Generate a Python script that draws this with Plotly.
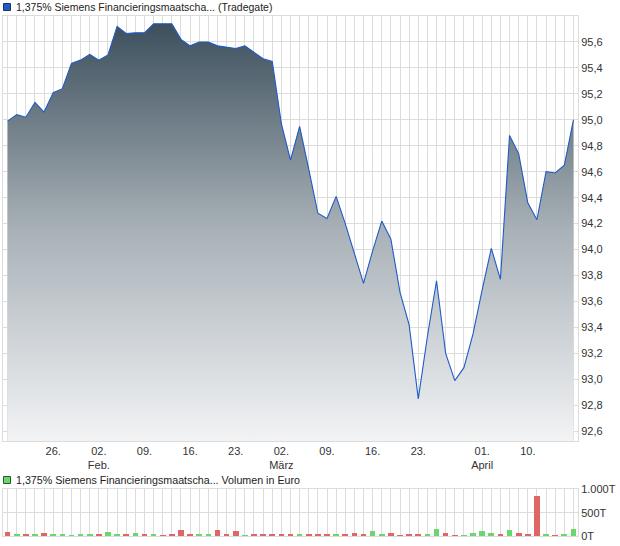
import plotly.graph_objects as go

# ---- data -------------------------------------------------------------
dates = [
    "2026-01-19", "2026-01-20", "2026-01-21", "2026-01-22", "2026-01-23",
    "2026-01-26", "2026-01-27", "2026-01-28", "2026-01-29", "2026-01-30",
    "2026-02-02", "2026-02-03", "2026-02-04", "2026-02-05", "2026-02-06",
    "2026-02-09", "2026-02-10", "2026-02-11", "2026-02-12", "2026-02-13",
    "2026-02-16", "2026-02-17", "2026-02-18", "2026-02-19", "2026-02-20",
    "2026-02-23", "2026-02-24", "2026-02-25", "2026-02-26", "2026-02-27",
    "2026-03-02", "2026-03-03", "2026-03-04", "2026-03-05", "2026-03-06",
    "2026-03-09", "2026-03-10", "2026-03-11", "2026-03-12", "2026-03-13",
    "2026-03-16", "2026-03-17", "2026-03-18", "2026-03-19", "2026-03-20",
    "2026-03-23", "2026-03-24", "2026-03-25", "2026-03-26", "2026-03-27",
    "2026-03-30", "2026-03-31", "2026-04-01", "2026-04-02", "2026-04-07",
    "2026-04-08", "2026-04-09", "2026-04-10", "2026-04-13", "2026-04-14",
    "2026-04-15", "2026-04-16", "2026-04-17",
]

close = [
    94.99, 95.04, 95.02, 95.135, 95.06, 95.21, 95.24, 95.435, 95.46, 95.505,
    95.46, 95.50, 95.72, 95.665, 95.67, 95.67, 95.74, 95.74, 95.74, 95.62,
    95.57, 95.60, 95.60, 95.57, 95.56, 95.55, 95.57, 95.52, 95.47, 95.45,
    94.97, 94.69, 94.95, 94.62, 94.28, 94.24, 94.41, 94.20, 93.97, 93.74,
    93.99, 94.22, 94.08, 93.67, 93.42, 92.85, 93.33, 93.76, 93.20, 92.99,
    93.09, 93.35, 93.69, 94.01, 93.77, 94.88, 94.74, 94.36, 94.23, 94.60,
    94.59, 94.65, 95.00,
]

# volume in thousand euro (T)
volume = [
    72, 43, 43, 22, 65, 22, 22, 7, 43, 43,
    43, 87, 22, 22, 65, 43, 22, 10, 22, 130,
    22, 22, 43, 130, 43, 94, 7, 43, 22, 43,
    22, 22, 22, 22, 43, 22, 22, 43, 65, 22,
    94, 43, 65, 7, 43, 43, 22, 138, 65, 7,
    7, 65, 94, 65, 22, 116, 65, 22, 855, 43,
    7, 22, 138,
]

direction = [
    "down", "up", "down", "up", "down", "up", "up", "up", "up", "up",
    "down", "up", "up", "down", "up", "down", "up", "down", "down", "down",
    "down", "up", "up", "down", "down", "down", "up", "down", "down", "down",
    "down", "down", "up", "down", "down", "down", "up", "down", "down", "down",
    "up", "up", "down", "down", "down", "down", "up", "up", "down", "down",
    "up", "up", "up", "up", "down", "up", "down", "down", "down", "up",
    "down", "up", "up",
]

x_label_dates = ["2026-01-26", "2026-02-02", "2026-02-09", "2026-02-16", "2026-02-23",
                 "2026-03-02", "2026-03-09", "2026-03-16", "2026-03-23", "2026-04-01",
                 "2026-04-10"]
x_label_text = ["26.", "02.<br>Feb.", "09.", "16.", "23.",
                "02.<br>März", "09.", "16.", "23.", "01.<br>April", "10."]

price_ticks = [92.6, 92.8, 93.0, 93.2, 93.4, 93.6, 93.8, 94.0, 94.2, 94.4,
               94.6, 94.8, 95.0, 95.2, 95.4, 95.6]
vol_ticks = [0, 500, 1000]
vol_tick_text = ["0T", "500T", "1.000T"]

title_price = "1,375% Siemens Financieringsmaatscha... (Tradegate)"
title_volume = "1,375% Siemens Financieringsmaatscha... Volumen in Euro"

# ---- figure -----------------------------------------------------------
FONT = "Liberation Sans, Arial, sans-serif"
GRID = "#dcdcdc"
TXT = "#333333"

lab = dict(zip(x_label_dates, x_label_text))
ticktext_all = [lab.get(d, "") for d in dates]

fig = go.Figure()

fig.add_trace(go.Scatter(
    x=dates, y=close, mode="lines",
    line=dict(color="#1f5bc6", width=1.1),
    fill="tozeroy",
    fillgradient=dict(type="vertical",
                      colorscale=[[0, "#f2f3f5"], [0.5, "#a9b2b8"], [1, "#3c4f5c"]],
                      start=92.525, stop=95.75),
    xaxis="x", yaxis="y", showlegend=False, hoverinfo="x+y",
))

bar_colors = ["#6bd66b" if d == "up" else "#e06666" for d in direction]
fig.add_trace(go.Bar(
    x=dates, y=volume, marker=dict(color=bar_colors, line=dict(width=0)),
    width=0.62, xaxis="x2", yaxis="y2", showlegend=False,
))

common_x = dict(
    type="category", range=[-0.5, len(dates) - 0.5],
    tickmode="array", tickvals=dates,
    showgrid=True, gridcolor=GRID, gridwidth=1,
    showline=True, linecolor=GRID, mirror=True,
    ticks="", zeroline=False,
    tickfont=dict(family=FONT, size=11, color=TXT),
)

fig.update_layout(
    width=620, height=546,
    margin=dict(l=3, r=42, t=16, b=10),
    paper_bgcolor="white", plot_bgcolor="white",
    separators=",.",
    bargap=0,
    xaxis=dict(common_x, ticktext=ticktext_all, anchor="y", domain=[0, 1]),
    xaxis2=dict(common_x, ticktext=["" for _ in dates], anchor="y2", domain=[0, 1],
                matches="x", showticklabels=False),
    yaxis=dict(domain=[0.1827, 1], range=[92.525, 95.8], side="right",
               tickmode="array", tickvals=price_ticks, tickformat=".1f",
               showgrid=True, gridcolor=GRID, showline=True, linecolor=GRID,
               mirror=True, ticks="", zeroline=False,
               tickfont=dict(family=FONT, size=11, color=TXT)),
    yaxis2=dict(domain=[0, 0.0898], range=[0, 1000], side="right",
                tickmode="array", tickvals=vol_ticks, ticktext=vol_tick_text,
                showgrid=True, gridcolor=GRID, showline=True, linecolor=GRID,
                mirror=True, ticks="", zeroline=False,
                tickfont=dict(family=FONT, size=11, color=TXT)),
    font=dict(family=FONT, size=11, color=TXT),
    hovermode="x",
)

# legend-like titles with colored squares
W, H = 575.0, 520.0
def px(xp):
    return (xp - 3) / W
def py(yp):
    return (536 - yp) / H

fig.add_shape(type="rect", xref="paper", yref="paper",
              x0=px(3.5), x1=px(10.5), y0=py(10.5), y1=py(3.5),
              fillcolor="#1f5bc6", line=dict(color="#223355", width=1))
fig.add_shape(type="rect", xref="paper", yref="paper",
              x0=px(3.5), x1=px(10.5), y0=py(483.5), y1=py(476.5),
              fillcolor="#6bd66b", line=dict(color="#335533", width=1))

fig.add_annotation(text=title_price, xref="paper", yref="paper",
                   x=px(14), y=py(7), xanchor="left", yanchor="middle",
                   showarrow=False, font=dict(family=FONT, size=10.5, color="#222222"))
fig.add_annotation(text=title_volume, xref="paper", yref="paper",
                   x=px(14), y=py(480), xanchor="left", yanchor="middle",
                   showarrow=False, font=dict(family=FONT, size=10.7, color="#222222"))

fig.write_html("out.html",
               config={"displayModeBar": False},
               post_script="document.body.style.margin='0';document.body.style.overflow='hidden';")
